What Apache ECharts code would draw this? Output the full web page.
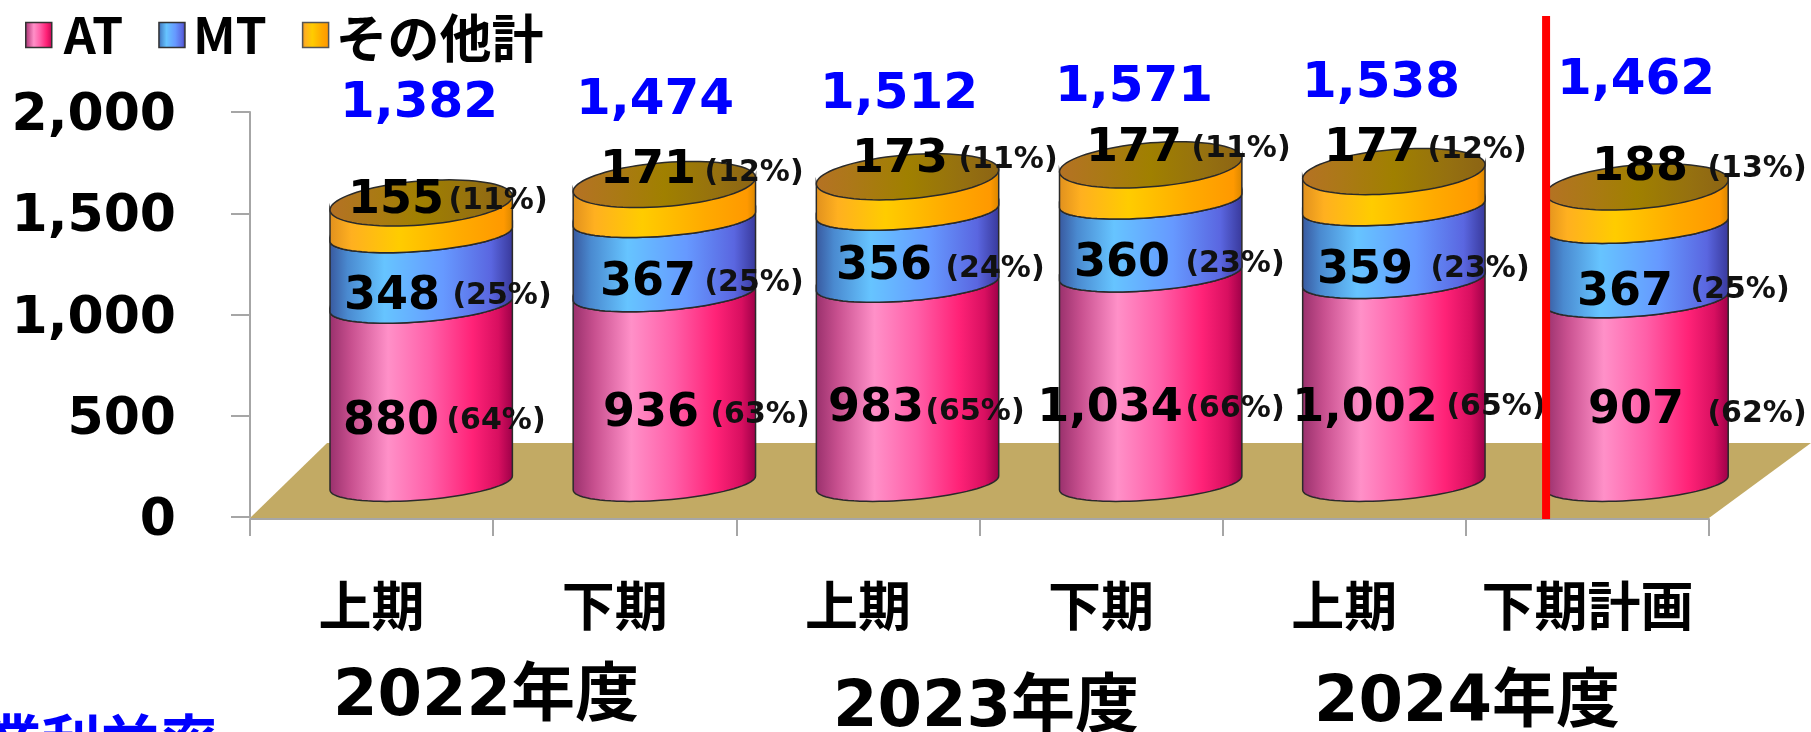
<!DOCTYPE html>
<html>
<head>
<meta charset="utf-8">
<title>AT MT</title>
<style>
  html, body { margin: 0; padding: 0; background: #fff; }
  #chart { width: 1811px; height: 732px; }
</style>
<script src="https://cdn.jsdelivr.net/npm/echarts@6/dist/echarts.min.js"></script>
</head>
<body>
<div id="chart"></div>
<script>
// data
var categories = ['上期', '下期', '上期', '下期', '上期', '下期計画'];
var atValues = [880, 936, 983, 1034, 1002, 907];
var mtValues = [348, 367, 356, 360, 359, 367];
var otherValues = [155, 171, 173, 177, 177, 188];
var totals = ['1,382', '1,474', '1,512', '1,571', '1,538', '1,462'];
var atShare = [64, 63, 65, 66, 65, 62];
var mtShare = [25, 25, 24, 23, 23, 25];
var otherShare = [11, 12, 11, 11, 12, 13];
var yearLabels = ['2022年度', '2023年度', '2024年度'];

// hand placed label spots in the original slide (pixels, centre of the text)
var totalX = [419, 655, 899, 1134, 1381, 1636];
var totalY = [100, 97, 91, 84, 80, 77];
var atNumX = [391, 651, 876, 1110, 1365, 1636];
var atNumY = [418, 410, 405, 405, 405, 407];
var atPctX = [496, 760, 975, 1235, 1496, 1757];
var atPctY = [419, 413, 410, 407, 405, 412];
var mtNumX = [392, 648, 884, 1122, 1365, 1625];
var mtNumY = [293, 279, 263, 260, 267, 289];
var mtPctX = [502, 754, 995, 1235, 1480, 1740];
var mtPctY = [294, 281, 267, 262, 267, 288];
var otherNumX = [396, 648, 900, 1134, 1372, 1640];
var otherNumY = [197, 167, 156, 145, 145, 164];
var otherPctX = [498, 754, 1008, 1241, 1477, 1757];
var otherPctY = [199, 171, 158, 147, 148, 167];

var BOLD_FONT = '"DejaVu Sans", "Noto Sans CJK JP", sans-serif';
var CJK_FONT = '"Noto Sans CJK JP", sans-serif';

// fake 3D settings of the cylinders
var BAR_SHIFT_X = 0.204;   // part of a category the bar sits to the right
var BAR_WIDTH = 0.75;      // part of a category
var BAR_LIFT = 34;
var TILT = 7;
var SIDE_OPEN = 17;
var CAP_OPEN = 22;

function hGradient(stops) {
  return new echarts.graphic.LinearGradient(0, 0, 1, 0, stops.map(function (s) {
    return { offset: s[0], color: s[1] };
  }));
}
var atFill = hGradient([[0, '#99306C'], [0.12, '#C8508F'], [0.32, '#FF90C8'], [0.55, '#FF5FA8'], [0.78, '#FF2277'], [0.92, '#D80F60'], [1, '#9C0048']]);
var mtFill = hGradient([[0, '#38589E'], [0.1, '#4A8AD0'], [0.3, '#66C4FF'], [0.62, '#6699FF'], [0.88, '#5A66E0'], [1, '#38389A']]);
var otherFill = hGradient([[0, '#E0901E'], [0.12, '#FFB020'], [0.38, '#FFCC00'], [0.72, '#FFAA00'], [0.95, '#FF9900'], [1, '#D88600']]);
var capFill = hGradient([[0, '#B57224'], [0.2, '#AC7818'], [0.5, '#A08000'], [0.8, '#957010'], [1, '#8C6414']]);

// front half of a tilted ellipse, left to right when reverse is false
function frontArc(cx, cy, a, b, reverse) {
  var pts = [];
  for (var k = 0; k <= 40; k++) {
    var t = Math.PI + Math.PI * k / 40;
    pts.push([cx + a * Math.cos(t), cy - TILT * Math.cos(t) - b * Math.sin(t)]);
  }
  return reverse ? pts.reverse() : pts;
}

function cylinderItem(fill, withCap) {
  return function (params, api) {
    var band = api.size([1, 0])[0];
    var cx = api.coord([api.value(0), 0])[0] + band * BAR_SHIFT_X;
    var a = band * BAR_WIDTH / 2;
    var yLow = api.coord([0, api.value(1)])[1] - BAR_LIFT;
    var yHigh = api.coord([0, api.value(2)])[1] - BAR_LIFT;
    var side = frontArc(cx, yHigh, a, SIDE_OPEN, false).concat(frontArc(cx, yLow, a, SIDE_OPEN, true));
    var children = [{
      type: 'polygon',
      shape: { points: side },
      style: { fill: fill, stroke: '#2a2a2a', lineWidth: 1.5 }
    }];
    if (withCap) {
      var capFront = frontArc(cx, yHigh, a, CAP_OPEN, false);
      var capBack = capFront.map(function (p) { return [2 * cx - p[0], 2 * yHigh - p[1]]; });
      children.push({
        type: 'polygon',
        shape: { points: capFront.concat(capBack) },
        style: { fill: capFill, stroke: '#2a2a2a', lineWidth: 1.5 }
      });
    }
    return { type: 'group', children: children };
  };
}

function stackData(values, below) {
  return values.map(function (v, i) {
    var start = below.reduce(function (sum, arr) { return sum + arr[i]; }, 0);
    return [i, start, start + v];
  });
}

function floorItem(params, api) {
  var box = params.coordSys;
  var depthX = api.size([1, 0])[0] * 0.317;
  var depthY = 74;
  var bottom = box.y + box.height;
  var right = box.x + box.width;
  return {
    type: 'polygon',
    shape: { points: [[box.x, bottom + 1], [right, bottom + 1], [right + depthX + 25, bottom - depthY], [box.x + depthX, bottom - depthY]] },
    style: { fill: '#C2AA64' }
  };
}

function dividerItem(params, api) {
  var band = api.size([1, 0])[0];
  var x = api.coord([api.value(0), 0])[0] + band * api.value(1);
  var box = params.coordSys;
  return {
    type: 'rect',
    shape: { x: x - 4, y: 16, width: 8, height: box.y + box.height + 2 - 16 },
    style: { fill: '#FF0000' }
  };
}

function textEl(str, x, y, size, color, family) {
  return {
    type: 'text',
    z: 20,
    x: x,
    y: y + size * 0.09,   // digits sit high in the em box
    style: {
      text: str,
      fill: color,
      font: 'bold ' + size + 'px ' + family,
      align: 'center',
      verticalAlign: 'middle'
    }
  };
}

var labels = [];
categories.forEach(function (c, i) {
  labels.push(textEl(totals[i], totalX[i], totalY[i], 50, '#0000FF', BOLD_FONT));
  labels.push(textEl(String(atValues[i]).replace(/(\d)(\d{3})$/, '$1,$2'), atNumX[i], atNumY[i], 46, '#000', BOLD_FONT));
  labels.push(textEl('(' + atShare[i] + '%)', atPctX[i], atPctY[i], 30, '#111', BOLD_FONT));
  labels.push(textEl(String(mtValues[i]), mtNumX[i], mtNumY[i], 46, '#000', BOLD_FONT));
  labels.push(textEl('(' + mtShare[i] + '%)', mtPctX[i], mtPctY[i], 30, '#111', BOLD_FONT));
  labels.push(textEl(String(otherValues[i]), otherNumX[i], otherNumY[i], 46, '#000', BOLD_FONT));
  labels.push(textEl('(' + otherShare[i] + '%)', otherPctX[i], otherPctY[i], 30, '#111', BOLD_FONT));
});
labels.push(textEl(yearLabels[0], 486, 693, 64, '#000', BOLD_FONT));
labels.push(textEl(yearLabels[1], 986, 704, 64, '#000', BOLD_FONT));
labels.push(textEl(yearLabels[2], 1467, 699, 64, '#000', BOLD_FONT));
labels.push(textEl('営業利益率', 71, 736, 59, '#0000FF', CJK_FONT));

var chart = echarts.init(document.getElementById('chart'));
chart.setOption({
  backgroundColor: '#fff',
  animation: false,
  legend: {
    left: 25,
    top: 10,
    itemWidth: 26,
    itemHeight: 25,
    itemGap: 35,
    padding: 0,
    icon: 'rect',
    selectedMode: false,
    data: [
      { name: 'AT', itemStyle: { color: atFill, borderColor: '#333', borderWidth: 1.5 } },
      { name: 'MT', itemStyle: { color: mtFill, borderColor: '#333', borderWidth: 1.5 } },
      { name: 'その他計', itemStyle: { color: otherFill, borderColor: '#555', borderWidth: 1.5 } }
    ],
    textStyle: {
      color: '#000',
      rich: {
        at: { fontFamily: CJK_FONT, fontWeight: 'bold', fontSize: 50, width: 66, color: '#000', padding: [0, 0, 0, 7] },
        mt: { fontFamily: CJK_FONT, fontWeight: 'bold', fontSize: 50, width: 56, color: '#000', padding: [0, 0, 0, 3] },
        cjk: { fontFamily: CJK_FONT, fontWeight: 'bold', fontSize: 52, width: 208, color: '#000', padding: [6, 0, 0, 2] }
      }
    },
    formatter: function (name) {
      if (name === 'AT') return '{at|AT}';
      if (name === 'MT') return '{mt|MT}';
      return '{cjk|' + name + '}';
    }
  },
  grid: { left: 250, right: 102, top: 112, bottom: 215 },
  xAxis: {
    type: 'category',
    data: categories,
    offset: 2,
    z: 2,
    axisLine: { onZero: false, lineStyle: { color: '#A6A6A6', width: 2 } },
    axisTick: { show: true, length: 17, lineStyle: { color: '#A6A6A6', width: 2 } },
    axisLabel: {
      interval: 0,
      margin: 60,
      color: '#000',
      fontFamily: CJK_FONT,
      fontWeight: 'bold',
      fontSize: 53
    }
  },
  yAxis: {
    type: 'value',
    min: 0,
    max: 2000,
    interval: 500,
    splitLine: { show: false },
    axisLine: { show: true, lineStyle: { color: '#A6A6A6', width: 2 } },
    axisTick: { show: true, length: 19, lineStyle: { color: '#A6A6A6', width: 2 } },
    axisLabel: {
      margin: 74,
      formatter: function (v) {
        return '{v|' + (v >= 1000 ? String(v).replace(/(\d)(\d{3})$/, '$1,$2') : v) + '}';
      },
      rich: {
        v: { color: '#000', fontFamily: BOLD_FONT, fontWeight: 'bold', fontSize: 52, padding: [9, 0, 0, 0] }
      }
    }
  },
  series: [
    { name: 'floor', type: 'custom', renderItem: floorItem, data: [[0]], clip: false, silent: true, z: 1 },
    { name: 'AT', type: 'custom', renderItem: cylinderItem(atFill, false), data: stackData(atValues, []), encode: { x: 0, y: [1, 2] }, clip: false, z: 3 },
    { name: 'MT', type: 'custom', renderItem: cylinderItem(mtFill, false), data: stackData(mtValues, [atValues]), encode: { x: 0, y: [1, 2] }, clip: false, z: 4 },
    { name: 'その他計', type: 'custom', renderItem: cylinderItem(otherFill, true), data: stackData(otherValues, [atValues, mtValues]), encode: { x: 0, y: [1, 2] }, clip: false, z: 5 },
    { name: 'divider', type: 'custom', renderItem: dividerItem, data: [[4, 0.83]], clip: false, silent: true, z: 30 }
  ],
  graphic: { elements: labels }
});
</script>
</body>
</html>
